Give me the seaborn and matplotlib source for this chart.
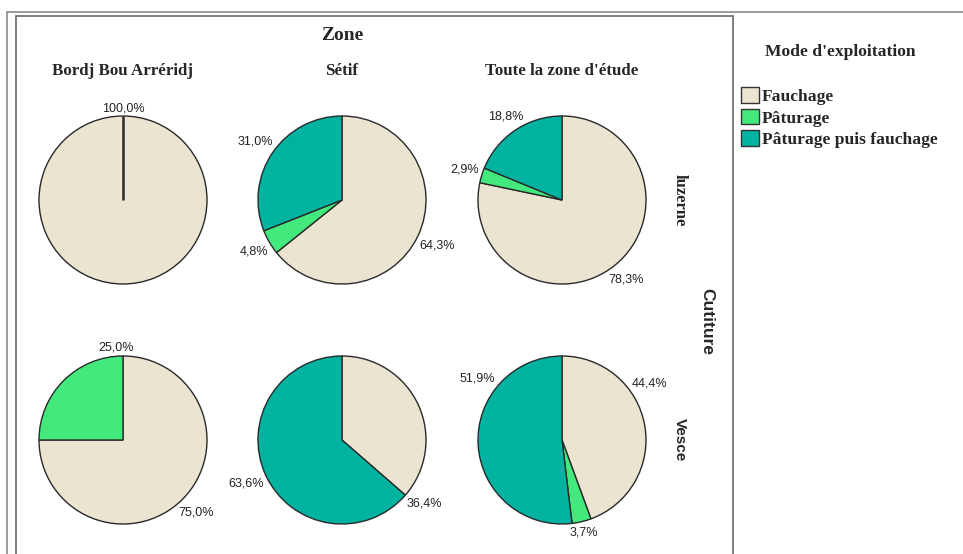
import numpy as np
import pandas as pd
import matplotlib
matplotlib.use("Agg")
import matplotlib.pyplot as plt
from matplotlib.patches import Patch
from matplotlib.lines import Line2D
import seaborn as sns

# ---- data -------------------------------------------------------------
zones = ["Bordj Bou Arréridj", "Sétif", "Toute la zone d'étude"]
cultures = ["luzerne", "Vesce"]
modes = ["Fauchage", "Pâturage", "Pâturage puis fauchage"]

# percentages, one list per culture, ordered like `zones`
fauchage = {"luzerne": [100.0, 64.3, 78.3], "Vesce": [75.0, 36.4, 44.4]}
paturage = {"luzerne": [0.0, 4.8, 2.9], "Vesce": [25.0, 0.0, 3.7]}
paturage_puis_fauchage = {"luzerne": [0.0, 31.0, 18.8], "Vesce": [0.0, 63.6, 51.9]}

mode_colors = ["#EAE4D0", "#43E97D", "#00B3A1"]

rows = []
for c in cultures:
    for zi, z in enumerate(zones):
        for m, series in zip(modes, [fauchage, paturage, paturage_puis_fauchage]):
            rows.append({"Culture": c, "Zone": z, "Mode": m, "pct": series[c][zi]})
df = pd.DataFrame(rows)

# ---- style ------------------------------------------------------------
sns.set_theme(style="white")
palette = dict(zip(modes, sns.color_palette(mode_colors)))
plt.rcParams["font.family"] = ["Liberation Sans", "DejaVu Sans"]
SERIF = ["Liberation Serif", "DejaVu Serif"]
SANS = ["Liberation Sans", "DejaVu Sans"]

W, H = 963, 554
fig = plt.figure(figsize=(W / 100, H / 100), dpi=100)
fig.patch.set_facecolor("white")
renderer = fig.canvas.get_renderer()


def fx(x):
    return x / W


def fy(y):
    return 1 - y / H


# label directions that are moved away from the slice middle
label_angle_override = {
    ("luzerne", "Bordj Bou Arréridj", "Fauchage"): 90,
    ("Vesce", "Bordj Bou Arréridj", "Pâturage"): 94,
    ("Vesce", "Sétif", "Fauchage"): -38,
    ("Vesce", "Toute la zone d'étude", "Fauchage"): 33,
    ("Vesce", "Toute la zone d'étude", "Pâturage puis fauchage"): 144,
}

col_x = [123, 342, 562]
row_y = [200, 440]
R_PX = 84          # pie radius in pixels
S_PX = 240         # axes box size in pixels
LIM = S_PX / 2 / R_PX
GAP_PX = 3         # space between the circle and a label box

for ri, c in enumerate(cultures):
    for zi, z in enumerate(zones):
        cx, cy = col_x[zi], row_y[ri]
        ax = fig.add_axes([fx(cx - S_PX / 2), fy(cy + S_PX / 2), S_PX / W, S_PX / H])
        sub = df[(df.Culture == c) & (df.Zone == z) & (df.pct > 0)]
        vals = sub["pct"].tolist()
        labs = sub["Mode"].tolist()
        wedges, _ = ax.pie(
            vals,
            colors=[palette[m] for m in labs],
            startangle=90,
            counterclock=False,
            radius=1.0,
            wedgeprops=dict(edgecolor="#2a2a2a", linewidth=1.0),
        )
        if len(vals) == 1:
            ax.plot([0, 0], [0, 1], color="#2a2a2a", lw=1.8, solid_capstyle="butt")
        ax.set_xlim(-LIM, LIM)
        ax.set_ylim(-LIM, LIM)
        ax.set_aspect("equal")
        ax.axis("off")
        for w, m, v in zip(wedges, labs, vals):
            ang = np.radians(label_angle_override.get((c, z, m), (w.theta1 + w.theta2) / 2))
            t = ax.text(0, 0, f"{v:.1f}%".replace(".", ","),
                        ha="center", va="center", fontsize=9, family=SANS,
                        color="#222222",
                        bbox=dict(boxstyle="square,pad=0.1", fc="white", ec="none"),
                        zorder=5)
            ext = t.get_window_extent(renderer)
            tw, th = ext.width, ext.height * 0.8
            off = GAP_PX + abs(np.cos(ang)) * tw / 2 + abs(np.sin(ang)) * th / 2
            r = 1 + off / R_PX
            t.set_position((r * np.cos(ang), r * np.sin(ang)))

# ---- titles -----------------------------------------------------------
fig.text(fx(342), fy(36), "Zone", ha="center", va="center",
         family=SERIF, fontweight="bold", fontsize=14)
for x, z in zip(col_x, zones):
    fig.text(fx(x), fy(71), z, ha="center", va="center",
             family=SERIF, fontweight="bold", fontsize=12.2)

fig.text(fx(680), fy(200), "luzerne", ha="center", va="center", rotation=-90,
         family=SERIF, fontweight="bold", fontsize=12)
fig.text(fx(680), fy(440), "Vesce", ha="center", va="center", rotation=-90,
         family=SANS, fontweight="bold", fontsize=11)
fig.text(fx(707), fy(321), "Cutiture", ha="center", va="center", rotation=-90,
         family=SANS, fontweight="bold", fontsize=12.5)

# ---- legend -----------------------------------------------------------
fig.text(fx(840), fy(52), "Mode d'exploitation", ha="center", va="center",
         family=SERIF, fontweight="bold", fontsize=12.6)
handles = [Patch(facecolor=palette[m], edgecolor="#333333", linewidth=1.0) for m in modes]
fig.legend(
    handles, modes,
    loc="upper left",
    bbox_to_anchor=(fx(741), fy(87)),
    frameon=False,
    borderpad=0,
    borderaxespad=0,
    handlelength=1.05,
    handleheight=1.0,
    handletextpad=0.15,
    labelspacing=0.22,
    prop=dict(family=SERIF, weight="bold", size=12.6),
)

# ---- frames -----------------------------------------------------------
frame_lines = [
    ((7, 963), (12, 12), "#8a8a8a", 1.2),
    ((7, 7), (12, 554), "#8a8a8a", 1.2),
    ((16, 733), (16, 16), "#6a6a6a", 1.2),
    ((16, 16), (16, 554), "#6a6a6a", 1.2),
    ((733, 733), (16, 554), "#6a6a6a", 1.2),
]
for xs, ys, col, lw in frame_lines:
    fig.add_artist(Line2D([fx(xs[0]), fx(xs[1])], [fy(ys[0]), fy(ys[1])],
                          transform=fig.transFigure, color=col, lw=lw))

fig.savefig("out.png", dpi=100, facecolor="white")
